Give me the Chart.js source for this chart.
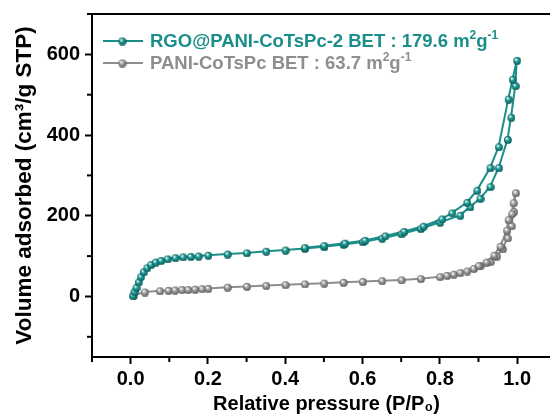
<!DOCTYPE html>
<html>
<head>
<meta charset="utf-8">
<script src="https://cdn.jsdelivr.net/npm/chart.js@4.4.1/dist/chart.umd.min.js"></script>
<style>
  html, body { margin: 0; padding: 0; background: #fff; }
  #wrap { width: 550px; height: 418px; }
</style>
</head>
<body>
<div id="wrap"><canvas id="iso"></canvas></div>
<script>
// RGO@PANI-CoTsPc-2 : adsorption branch then desorption branch
const rgoP = [0.005, 0.009, 0.014, 0.02, 0.026, 0.033, 0.042, 0.052, 0.064, 0.078, 0.095, 0.115, 0.135, 0.155, 0.175, 0.2,
  0.25, 0.3, 0.35, 0.4, 0.45, 0.5, 0.55, 0.6, 0.65, 0.7, 0.75, 0.8, 0.852, 0.878, 0.904, 0.93, 0.952, 0.975, 0.984, 0.995, 0.999,
  0.988, 0.977, 0.952, 0.93, 0.896, 0.87, 0.831, 0.805, 0.757, 0.707, 0.658, 0.606, 0.554, 0.5, 0.45];
const rgoV = [2, 12, 22, 36, 49, 61, 71, 79, 85, 89, 93, 96, 98, 99, 100, 102,
  105, 108, 112, 115, 119, 123, 129, 135, 144, 155, 168, 184, 201, 222, 243, 272, 319, 389, 444, 522, 585,
  538, 489, 371, 319, 263, 233, 207, 192, 174, 161, 150, 139, 132, 126, 121];

// PANI-CoTsPc : adsorption branch then desorption branch
const paniP = [0.008, 0.036, 0.075, 0.097, 0.114, 0.132, 0.148, 0.166, 0.184, 0.2, 0.25, 0.3, 0.35, 0.4, 0.45, 0.5, 0.55,
  0.6, 0.65, 0.7, 0.75, 0.8, 0.818, 0.835, 0.852, 0.87, 0.887, 0.904, 0.93, 0.947, 0.962, 0.975, 0.985, 0.991, 0.996,
  0.99, 0.986, 0.977, 0.973, 0.956, 0.94, 0.92, 0.9];
const paniV = [3, 11, 14, 15, 16, 17, 17, 18, 19, 20, 23, 25, 27, 29, 31, 33, 35,
  37, 39, 41, 44, 49, 52, 55, 59, 63, 69, 76, 86, 100, 118, 145, 175, 210, 257,
  232, 205, 190, 164, 124, 102, 85, 76];

const xTicks = [-0.1, 0, 0.1, 0.2, 0.3, 0.4, 0.5, 0.6, 0.7, 0.8, 0.9, 1.0];
const yTicks = [-100, 0, 100, 200, 300, 400, 500, 600, 700];
const seriesNames = ['RGO@PANI-CoTsPc-2 BET : 179.6 ', 'PANI-CoTsPc BET : 63.7 '];

const teal = '#1a8e89', grey = '#8e8e8e';
const fam = '"Liberation Sans", Arial, sans-serif';

// shaded ball marker
function sphere(base, dark, r) {
  const c = document.createElement('canvas');
  const s = r * 2 + 2;
  c.width = s; c.height = s;
  const g = c.getContext('2d');
  const grad = g.createRadialGradient(s / 2 - r * 0.35, s / 2 - r * 0.4, r * 0.1, s / 2, s / 2, r);
  grad.addColorStop(0, '#ffffff');
  grad.addColorStop(0.4, base);
  grad.addColorStop(1, dark);
  g.fillStyle = grad;
  g.beginPath(); g.arc(s / 2, s / 2, r, 0, Math.PI * 2); g.fill();
  return c;
}
const tealBall = sphere('#20a29c', '#0a5956', 3.9);
const greyBall = sphere('#a8a8a8', '#5a5a5a', 3.9);

const isMajorX = v => v >= -0.001 && Math.round(v * 10) % 2 === 0;
const isMajorY = v => v % 200 === 0;

// short minor ticks + legend
const extras = {
  id: 'extras',
  afterDraw(chart) {
    const ctx = chart.ctx;
    const xs = chart.scales.x, ys = chart.scales.y;
    ctx.save();
    ctx.strokeStyle = '#000'; ctx.lineWidth = 2;
    xTicks.filter(v => !isMajorX(v)).forEach(v => {
      const px = xs.getPixelForValue(v);
      ctx.beginPath(); ctx.moveTo(px, xs.top); ctx.lineTo(px, xs.top + 5); ctx.stroke();
    });
    yTicks.filter(v => !isMajorY(v)).forEach(v => {
      const py = ys.getPixelForValue(v);
      ctx.beginPath(); ctx.moveTo(ys.right, py); ctx.lineTo(ys.right - 5, py); ctx.stroke();
    });

    // legend
    const rows = [[teal, tealBall, 41], [grey, greyBall, 63]];
    rows.forEach(([col, ball, y], i) => {
      ctx.strokeStyle = col; ctx.lineWidth = 2;
      ctx.beginPath(); ctx.moveTo(103, y); ctx.lineTo(143, y); ctx.stroke();
      ctx.drawImage(ball, 122 - ball.width / 2, y - ball.height / 2);
      ctx.fillStyle = col;
      ctx.textBaseline = 'alphabetic';
      let x = 150;
      const base = y + 6;
      ctx.font = 'bold 18.5px ' + fam;
      ctx.fillText(seriesNames[i] + 'm', x, base);
      x += ctx.measureText(seriesNames[i] + 'm').width;
      ctx.font = 'bold 12px ' + fam;
      ctx.fillText('2', x, base - 8);
      x += ctx.measureText('2').width;
      ctx.font = 'bold 18.5px ' + fam;
      ctx.fillText('g', x, base);
      x += ctx.measureText('g').width;
      ctx.font = 'bold 12px ' + fam;
      ctx.fillText('-1', x, base - 8);
    });
    ctx.restore();
  }
};

new Chart(document.getElementById('iso'), {
  type: 'scatter',
  data: {
    datasets: [
      {
        label: 'RGO@PANI-CoTsPc-2',
        data: rgoP.map((p, i) => ({ x: p, y: rgoV[i] })),
        showLine: true,
        borderColor: teal,
        borderWidth: 2,
        pointStyle: tealBall,
        tension: 0
      },
      {
        label: 'PANI-CoTsPc',
        data: paniP.map((p, i) => ({ x: p, y: paniV[i] })),
        showLine: true,
        borderColor: grey,
        borderWidth: 2,
        pointStyle: greyBall,
        tension: 0
      }
    ]
  },
  options: {
    responsive: true,
    maintainAspectRatio: false,
    animation: false,
    layout: { autoPadding: false, padding: { top: 14, right: 0, left: 0, bottom: 0 } },
    plugins: { legend: { display: false }, tooltip: { enabled: false } },
    scales: {
      x: {
        type: 'linear', min: -0.1, max: 1.085,
        afterBuildTicks: s => { s.ticks = xTicks.map(v => ({ value: v })); },
        afterFit: s => { s.height = 61; s.paddingLeft = 0; s.paddingRight = 0; },
        border: { display: true, color: '#000', width: 2 },
        grid: { drawOnChartArea: false, tickLength: 7, tickWidth: 2,
          tickColor: c => isMajorX(c.tick.value) ? '#000' : 'rgba(0,0,0,0)' },
        ticks: {
          autoSkip: false, maxRotation: 0, padding: 3, color: '#000',
          font: { family: fam, size: 20, weight: 'bold' },
          callback: v => isMajorX(v) ? v.toFixed(1) : ''
        },
        title: {
          display: true, text: '  Relative pressure (P/P₀)', color: '#000', padding: { top: 0, bottom: 2 },
          font: { family: fam, size: 20, weight: 'bold' }
        }
      },
      x2: {
        type: 'linear', position: 'top', min: -0.1, max: 1.085,
        afterFit: s => { s.height = 0; s.paddingLeft = 0; s.paddingRight = 0; },
        border: { display: true, color: '#000', width: 2 },
        grid: { display: false, drawTicks: false },
        ticks: { display: false }
      },
      y: {
        type: 'linear', min: -150, max: 700,
        afterBuildTicks: s => { s.ticks = yTicks.map(v => ({ value: v })); },
        afterFit: s => { s.width = 92; s.paddingTop = 0; s.paddingBottom = 0; },
        border: { display: true, color: '#000', width: 2 },
        grid: { drawOnChartArea: false, tickLength: 7, tickWidth: 2,
          tickColor: c => isMajorY(c.tick.value) ? '#000' : 'rgba(0,0,0,0)' },
        ticks: {
          autoSkip: false, padding: 5, color: '#000',
          font: { family: fam, size: 20, weight: 'bold' },
          callback: v => (isMajorY(v) && v >= 0 && v <= 600) ? String(v) : ''
        },
        title: {
          display: true, text: 'Volume adsorbed (cm³/g STP)', color: '#000', padding: { top: 11, bottom: 0 },
          font: { family: fam, size: 22.5, weight: 'bold' }
        }
      }
    }
  },
  plugins: [extras]
});
</script>
</body>
</html>
